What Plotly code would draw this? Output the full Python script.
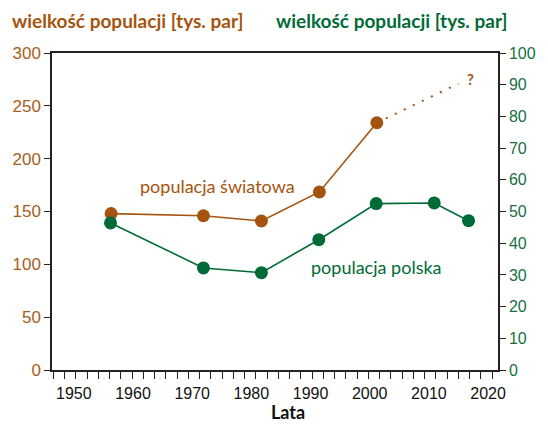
import plotly.graph_objects as go

# Data
world_years = [1956.3, 1971.9, 1981.7, 1991.5, 2001.2]
world_values = [148, 146, 141, 168.5, 234]
world_forecast_years = [2001.2, 2015.0]
world_forecast_values = [234, 271]

pl_years = [1956.2, 1971.9, 1981.7, 1991.4, 2001.1, 2010.9, 2016.7]
pl_values = [46.4, 32.2, 30.7, 41.1, 52.5, 52.7, 47.1]

left_ticks = [0, 50, 100, 150, 200, 250, 300]
right_ticks = [0, 10, 20, 30, 40, 50, 60, 70, 80, 90, 100]
year_ticks = [1950, 1960, 1970, 1980, 1990, 2000, 2010, 2020]

BROWN = "#A5540F"
BROWN_TXT = "#A65E1A"
GREEN = "#006B37"
GREEN_TXT = "#16703F"
AXIS = "#222222"

fig = go.Figure()

fig.add_trace(go.Scatter(
    x=world_forecast_years, y=world_forecast_values, mode="lines",
    line=dict(color=BROWN, width=2, dash="2px,8px"), showlegend=False,
    hoverinfo="skip"))
fig.add_trace(go.Scatter(
    x=world_years, y=world_values, mode="lines+markers",
    line=dict(color=BROWN, width=1.6), marker=dict(color=BROWN, size=13),
    showlegend=False))
fig.add_trace(go.Scatter(
    x=pl_years, y=pl_values, mode="lines+markers", yaxis="y2",
    line=dict(color=GREEN, width=1.6), marker=dict(color=GREEN, size=13),
    showlegend=False))

fig.update_layout(
    width=548, height=424,
    margin=dict(l=51, r=48, t=53, b=54),
    paper_bgcolor="white", plot_bgcolor="white",
    font=dict(family="Liberation Sans, Arial, sans-serif"),
    xaxis=dict(
        range=[1946.31, 2021.68], showgrid=False, zeroline=False,
        showline=True, linecolor=AXIS, linewidth=1.5, mirror=True,
        tickmode="array", tickvals=year_ticks, ticktext=[str(v) for v in year_ticks],
        ticks="", ticklen=7, tickwidth=1.2, tickcolor=AXIS,
        tickfont=dict(size=16, color="#111111"), ticklabelstandoff=8,
        minor=dict(dtick=1.902, tick0=1946.52, ticks="outside", ticklen=7,
                   tickwidth=1.2, tickcolor=AXIS, showgrid=False),
    ),
    yaxis=dict(
        range=[0, 300], showgrid=False, zeroline=False,
        showline=True, linecolor=AXIS, linewidth=1.5,
        tickmode="array", tickvals=left_ticks,
        ticks="outside", ticklen=6, tickwidth=1.2, tickcolor=AXIS,
        tickfont=dict(size=17, color=BROWN_TXT),
    ),
    yaxis2=dict(
        range=[0, 100], overlaying="y", side="right", showgrid=False,
        zeroline=False, showline=True, linecolor=AXIS, linewidth=1.5,
        tickmode="array", tickvals=right_ticks,
        ticks="outside", ticklen=6, tickwidth=1.2, tickcolor=AXIS,
        tickfont=dict(size=16, color=GREEN_TXT),
    ),
    annotations=[
        dict(text="<b>wielkość populacji [tys. par]</b>", xref="paper", yref="paper",
             x=0.169, y=1.104, showarrow=False, xanchor="center", yanchor="middle",
             font=dict(family="Lato, sans-serif", size=19, color=BROWN)),
        dict(text="<b>wielkość populacji [tys. par]</b>", xref="paper", yref="paper",
             x=0.762, y=1.104, showarrow=False, xanchor="center", yanchor="middle",
             font=dict(family="Lato, sans-serif", size=19, color=GREEN)),
        dict(text="<b>Lata</b>", xref="paper", yref="paper",
             x=0.530, y=-0.1325, showarrow=False, xanchor="center", yanchor="middle",
             font=dict(family="Lato, sans-serif", size=18, color="#111111")),
        dict(text="populacja światowa", xref="x", yref="y",
             x=1974.2, y=174.6, showarrow=False, xanchor="center", yanchor="middle",
             font=dict(family="Lato, sans-serif", size=18, color=BROWN)),
        dict(text="populacja polska", xref="x", yref="y",
             x=2001.2, y=97.9, showarrow=False, xanchor="center", yanchor="middle",
             font=dict(family="Lato, sans-serif", size=18, color=GREEN)),
        dict(text="<b>?</b>", xref="x", yref="y",
             x=2017.1, y=275, showarrow=False, xanchor="center", yanchor="middle",
             font=dict(family="Lato, sans-serif", size=15, color=BROWN)),
    ],
)

fig.write_html(
    "out.html",
    config={"displayModeBar": False},
    post_script="document.body.style.margin='0';document.body.style.overflow='hidden';",
)
